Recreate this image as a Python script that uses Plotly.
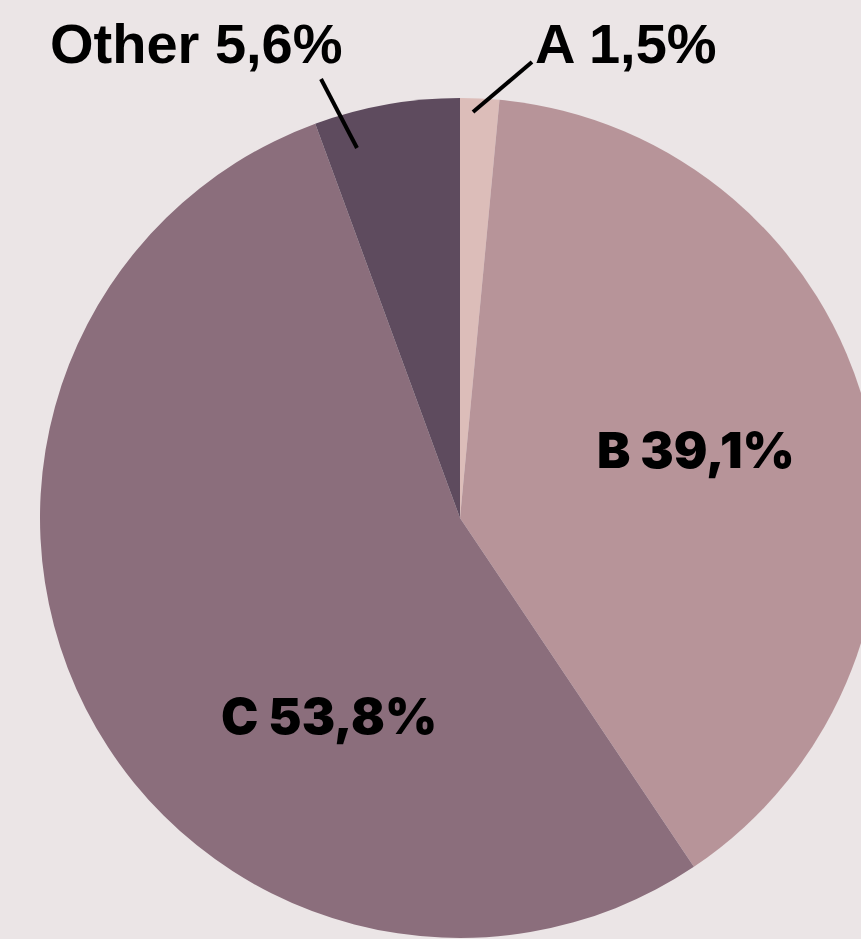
import plotly.graph_objects as go

labels = ["A", "B", "C", "Other"]
values = [1.5, 39.1, 53.8, 5.6]
colors = ["#dcbdb9", "#b79499", "#8b6e7c", "#5e4b5e"]

W, H = 880, 939
ML, MR, MT, MB = 40, 0, 98, 1
PW, PH = W - ML - MR, H - MT - MB


def px(x, y):
    return (x - ML) / PW, (H - MB - y) / PH


def fmt(lbl, v):
    return f"{lbl} {v:.1f}".replace(".", ",") + "%"


fig = go.Figure(
    go.Pie(
        labels=labels,
        values=values,
        marker=dict(colors=colors, line=dict(width=0)),
        sort=False,
        direction="clockwise",
        rotation=0,
        textinfo="none",
        hoverinfo="label+percent",
        showlegend=False,
        domain=dict(x=[0, 1], y=[0, 1]),
    )
)

label_pos = {
    "A": (626, 43, "Liberation Sans", 56, 700),
    "B": (696, 450, "Inter", 50, 900),
    "C": (329, 716, "Inter", 50, 900),
    "Other": (196, 43, "Liberation Sans", 56, 700),
}

annotations = []
for lbl, v in zip(labels, values):
    x, y, fam, size, wt = label_pos[lbl]
    ax, ay = px(x, y)
    annotations.append(
        dict(
            x=ax, y=ay, xref="paper", yref="paper",
            text=fmt(lbl, v), showarrow=False,
            xanchor="center", yanchor="middle",
            font=dict(family=fam, size=size, color="#000000", weight=wt),
        )
    )

leaders = [((473, 112), (532, 62)), ((357, 148), (321, 79))]
shapes = []
for (x0, y0), (x1, y1) in leaders:
    a0, b0 = px(x0, y0)
    a1, b1 = px(x1, y1)
    shapes.append(
        dict(type="line", xref="paper", yref="paper", x0=a0, y0=b0, x1=a1, y1=b1,
             line=dict(color="#000000", width=4))
    )

fig.update_layout(
    width=W, height=H,
    margin=dict(l=ML, r=MR, t=MT, b=MB, autoexpand=False),
    paper_bgcolor="#ebe5e6",
    plot_bgcolor="#ebe5e6",
    annotations=annotations,
    shapes=shapes,
)

fig.write_html(
    "out.html",
    config={"displayModeBar": False},
    post_script="document.body.style.margin='0';document.body.style.overflow='hidden';document.documentElement.style.overflow='hidden';document.body.style.background='#ebe5e6';",
)
